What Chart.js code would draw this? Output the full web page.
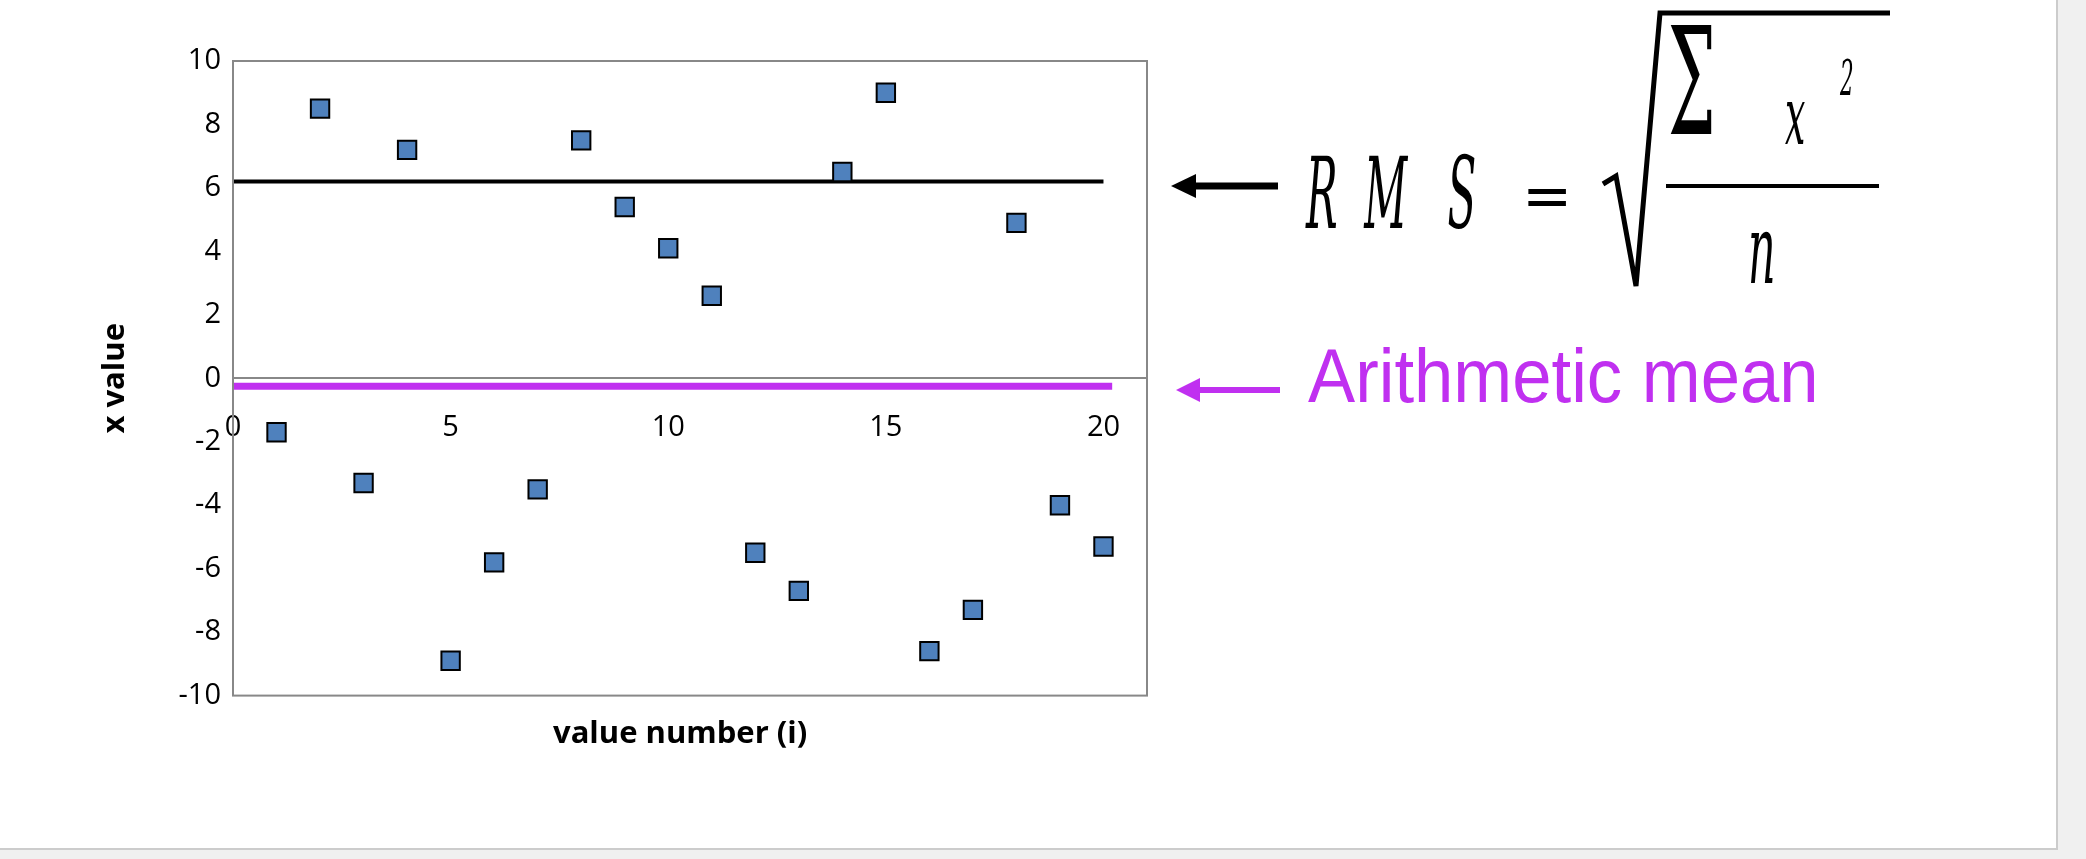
<!DOCTYPE html>
<html>
<head>
<meta charset="utf-8">
<script src="https://cdn.jsdelivr.net/npm/chart.js@4"></script>
<style>
  body { margin: 0; width: 2086px; height: 859px; background: #f0f0f0; overflow: hidden; font-family: "Open Sans", sans-serif; }
  #page { position: absolute; left: 0; top: 0; width: 2056px; height: 848px; background: #fff; border-right: 2px solid #ccc; border-bottom: 2px solid #ccc; }
  #wrap { position: absolute; left: 0; top: 0; width: 1200px; height: 717px; }
  .t { position: absolute; white-space: nowrap; }
  .f { font-family: "DejaVu Serif", serif; font-style: italic; transform-origin: left top; }
</style>
</head>
<body>
<div id="page">
  <div id="wrap"><canvas id="c"></canvas></div>
  <div class="t" style="left:553px; top:710px; font-size:31px; font-weight:bold;">value number (i)</div>

  <svg width="2086" height="859" style="position:absolute;left:0;top:0;pointer-events:none">
    <line x1="1190" y1="186" x2="1278" y2="186" stroke="#000" stroke-width="7"/>
    <polygon points="1171,186 1196,174 1196,198" fill="#000"/>
    <line x1="1195" y1="390" x2="1280" y2="390" stroke="#c030f0" stroke-width="6"/>
    <polygon points="1176,390 1200,378 1200,402" fill="#c030f0"/>
    <polyline points="1603,184 1616,176 1636,286 1660,13 1890,13" fill="none" stroke="#000" stroke-width="5"/>
    <line x1="1666" y1="186" x2="1879" y2="186" stroke="#000" stroke-width="4"/>
  </svg>

  <div class="t f" style="left:1306px; top:135px; font-size:100px; transform:scaleX(0.42);">R&nbsp;&nbsp;M&nbsp;&nbsp;&nbsp;S</div>
  <div class="t" style="left:1522px; top:160px; font-size:60px; font-family:'DejaVu Sans';">=</div>
  <div class="t" style="left:1668px; top:-5px; font-size:150px; font-family:'DejaVu Serif'; transform:scaleX(0.45); transform-origin:left top;">&Sigma;</div>
  <div class="t f" style="left:1785px; top:70px; font-size:80px; transform:scaleX(0.45);">x</div>
  <div class="t f" style="left:1840px; top:50px; font-size:48px; transform:scaleX(0.45);">2</div>
  <div class="t f" style="left:1748px; top:195px; font-size:95px; transform:scaleX(0.45);">n</div>
  <div class="t" style="left:1308px; top:332px; font-size:76px; color:#c030f0; font-family:'Liberation Sans', sans-serif; transform:scaleX(0.93); transform-origin:left top;">Arithmetic mean</div>
</div>
<script>
const indices = [1,2,3,4,5,6,7,8,9,10,11,12,13,14,15,16,17,18,19,20];
const xValues = [-1.7, 8.5, -3.3, 7.2, -8.9, -5.8, -3.5, 7.5, 5.4, 4.1, 2.6, -5.5, -6.7, 6.5, 9.0, -8.6, -7.3, 4.9, -4.0, -5.3];
const rmsLine = [{x: 0, y: 6.2}, {x: 20, y: 6.2}];
const meanLine = [{x: 0, y: -0.25}, {x: 20.2, y: -0.25}];
const yTicks = [-10, -8, -6, -4, -2, 0, 2, 4, 6, 8, 10];
const xTicks = [0, 5, 10, 15, 20];

const points = indices.map((i, k) => ({x: i, y: xValues[k]}));

const frame = {
  id: 'frame',
  afterDatasetsDraw(chart) {
    const a = chart.chartArea, g = chart.ctx;
    g.save();
    g.strokeStyle = '#888'; g.lineWidth = 2;
    g.strokeRect(a.left, a.top, a.right - a.left, a.bottom - a.top);
    g.restore();
  }
};

new Chart(document.getElementById('c'), {
  type: 'scatter',
  data: {
    datasets: [
      { data: meanLine, showLine: true, borderColor: '#c030f0', borderWidth: 7, pointRadius: 0, order: 3 },
      { data: rmsLine, showLine: true, borderColor: '#000', borderWidth: 4, pointRadius: 0, order: 2 },
      { data: points, pointStyle: 'rect', pointRadius: 13, backgroundColor: '#4f81bd', borderColor: '#000', borderWidth: 2, order: 1 }
    ]
  },
  options: {
    responsive: true, maintainAspectRatio: false, animation: false,
    layout: { padding: { top: 61, right: 53, bottom: 2, left: 97 } },
    plugins: { legend: { display: false }, tooltip: { enabled: false } },
    scales: {
      x: {
        type: 'linear', min: 0, max: 21, position: { y: 0 },
        afterBuildTicks: s => { s.ticks = xTicks.map(v => ({value: v})); },
        afterFit: s => { s.height = 0; },
        grid: { display: false, drawTicks: true, tickLength: 6, color: '#888' },
        border: { color: '#888', width: 2 },
        ticks: { color: '#000', font: { size: 29, family: 'Open Sans' }, padding: 26 }
      },
      y: {
        min: -10, max: 10,
        afterBuildTicks: s => { s.ticks = yTicks.map(v => ({value: v})); },
        afterFit: s => { s.width = 136; },
        grid: { display: false, drawTicks: true, tickLength: 8, color: '#888' },
        border: { color: '#888', width: 2 },
        ticks: { color: '#000', font: { size: 29, family: 'Open Sans' }, padding: 4 },
        title: { display: true, text: 'x value', color: '#000', font: { size: 31, weight: 'bold', family: 'Open Sans' }, padding: 0 }
      }
    }
  },
  plugins: [frame]
});
</script>
</body>
</html>
